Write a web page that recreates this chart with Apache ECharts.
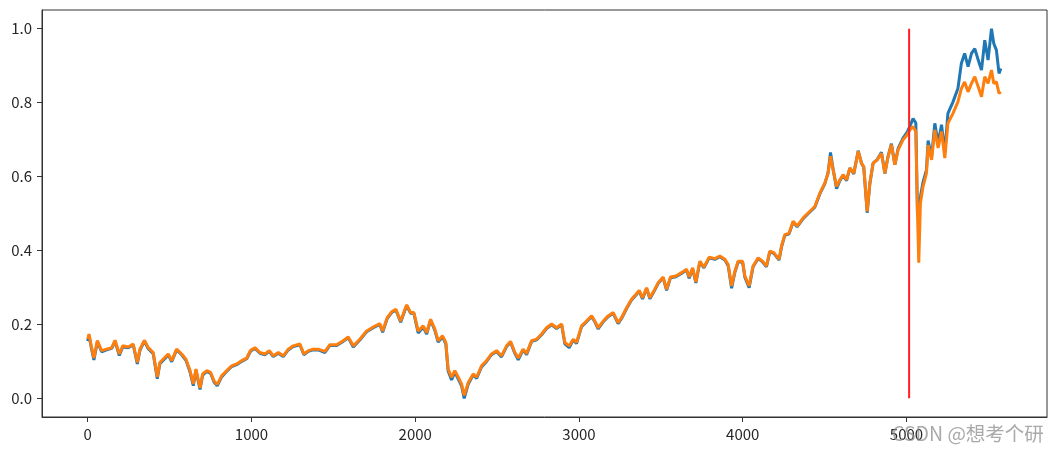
<!DOCTYPE html>
<html>
<head>
<meta charset="utf-8">
<script src="https://cdn.jsdelivr.net/npm/echarts@6/dist/echarts.min.js"></script>
<style>
html,body{margin:0;padding:0;background:#fff;}
#c{width:1057px;height:453px;}
</style>
</head>
<body>
<div id="c"></div>
<script>
// x positions (sample index)
const idx = [0,8,24,38,59,85,116,147,167,193,214,248,278,303,319,346,370,400,425,441,472,492,513,543,574,600,625,645,661,686,702,727,751,771,791,818,849,879,910,940,971,995,1021,1052,1082,1109,1133,1164,1194,1225,1255,1296,1320,1347,1377,1408,1449,1479,1520,1560,1591,1622,1662,1703,1744,1784,1801,1829,1856,1882,1911,1948,1972,1992,2018,2049,2070,2094,2120,2140,2167,2187,2201,2222,2242,2263,2283,2299,2324,2354,2375,2405,2436,2466,2497,2527,2558,2582,2609,2629,2659,2680,2711,2741,2772,2802,2833,2863,2894,2914,2940,2965,2985,3016,3046,3077,3097,3117,3148,3178,3209,3239,3260,3291,3321,3347,3368,3388,3413,3433,3457,3484,3514,3535,3559,3592,3626,3657,3673,3694,3714,3738,3763,3795,3830,3860,3891,3911,3932,3952,3972,3999,4013,4039,4063,4094,4121,4145,4165,4190,4222,4237,4257,4283,4308,4332,4369,4410,4440,4471,4501,4521,4536,4552,4573,4593,4613,4634,4654,4678,4705,4725,4739,4760,4776,4796,4821,4847,4868,4888,4908,4929,4949,4979,5004,5020,5040,5057,5067,5075,5085,5101,5122,5132,5153,5173,5193,5214,5234,5253,5284,5314,5335,5355,5376,5397,5417,5438,5458,5478,5498,5519,5533,5549,5565,5576];
// blue series (actual)
const actual = [0.155,0.170,0.133,0.104,0.153,0.126,0.131,0.135,0.155,0.116,0.139,0.137,0.145,0.093,0.130,0.155,0.134,0.121,0.053,0.094,0.108,0.118,0.099,0.131,0.118,0.103,0.071,0.034,0.076,0.024,0.063,0.073,0.067,0.045,0.034,0.058,0.073,0.086,0.091,0.100,0.107,0.128,0.135,0.122,0.118,0.127,0.113,0.122,0.113,0.131,0.140,0.145,0.118,0.127,0.131,0.131,0.124,0.143,0.143,0.154,0.164,0.139,0.158,0.180,0.191,0.200,0.179,0.216,0.232,0.239,0.206,0.251,0.230,0.230,0.177,0.193,0.174,0.212,0.184,0.152,0.166,0.147,0.074,0.050,0.071,0.052,0.034,0.000,0.039,0.063,0.054,0.085,0.100,0.118,0.127,0.112,0.140,0.152,0.121,0.104,0.131,0.118,0.154,0.158,0.172,0.189,0.199,0.189,0.199,0.147,0.137,0.158,0.148,0.194,0.207,0.221,0.207,0.188,0.207,0.221,0.230,0.202,0.216,0.243,0.266,0.279,0.290,0.269,0.297,0.269,0.288,0.311,0.326,0.292,0.326,0.329,0.338,0.347,0.325,0.351,0.312,0.369,0.353,0.380,0.376,0.383,0.374,0.359,0.298,0.341,0.369,0.369,0.328,0.299,0.356,0.378,0.369,0.356,0.396,0.392,0.374,0.410,0.441,0.445,0.477,0.464,0.486,0.504,0.517,0.553,0.580,0.610,0.665,0.620,0.567,0.589,0.603,0.589,0.623,0.607,0.670,0.636,0.625,0.502,0.580,0.636,0.646,0.666,0.608,0.656,0.689,0.632,0.676,0.704,0.720,0.735,0.757,0.745,0.500,0.530,0.545,0.585,0.618,0.697,0.652,0.744,0.690,0.740,0.665,0.771,0.802,0.838,0.906,0.933,0.897,0.933,0.946,0.915,0.888,0.969,0.915,1.000,0.960,0.942,0.879,0.892];
// orange series (predicted)
const predicted = [0.160,0.174,0.137,0.109,0.156,0.129,0.133,0.137,0.157,0.120,0.142,0.139,0.147,0.097,0.133,0.157,0.137,0.124,0.058,0.097,0.111,0.120,0.102,0.133,0.120,0.106,0.075,0.039,0.079,0.028,0.066,0.075,0.070,0.048,0.037,0.061,0.075,0.088,0.093,0.102,0.109,0.130,0.137,0.124,0.120,0.129,0.115,0.124,0.115,0.133,0.142,0.147,0.120,0.129,0.133,0.133,0.127,0.145,0.145,0.156,0.166,0.142,0.160,0.182,0.193,0.202,0.182,0.218,0.234,0.241,0.209,0.253,0.232,0.232,0.182,0.196,0.178,0.214,0.187,0.156,0.169,0.151,0.079,0.057,0.075,0.057,0.039,0.008,0.043,0.066,0.057,0.088,0.102,0.120,0.129,0.115,0.142,0.154,0.124,0.109,0.133,0.121,0.156,0.160,0.174,0.191,0.201,0.191,0.201,0.151,0.142,0.160,0.151,0.196,0.209,0.223,0.209,0.191,0.209,0.223,0.232,0.205,0.218,0.245,0.268,0.281,0.292,0.272,0.299,0.272,0.290,0.313,0.328,0.295,0.328,0.331,0.340,0.349,0.328,0.353,0.315,0.371,0.355,0.382,0.378,0.385,0.376,0.362,0.304,0.344,0.371,0.371,0.331,0.304,0.358,0.380,0.371,0.358,0.398,0.394,0.376,0.412,0.443,0.447,0.479,0.466,0.488,0.506,0.519,0.555,0.582,0.609,0.655,0.618,0.573,0.591,0.605,0.591,0.623,0.609,0.668,0.636,0.627,0.506,0.582,0.636,0.645,0.663,0.609,0.654,0.686,0.632,0.672,0.699,0.713,0.726,0.735,0.722,0.500,0.367,0.528,0.573,0.609,0.685,0.645,0.726,0.677,0.722,0.650,0.744,0.771,0.802,0.838,0.856,0.829,0.852,0.870,0.843,0.816,0.870,0.852,0.888,0.852,0.856,0.825,0.829];
// split marker
const splitIndex = 5016;
const splitRange = [0, 1];
// tick labels
const xTicks = [0, 1000, 2000, 3000, 4000, 5000];
const yTicks = [0.0, 0.2, 0.4, 0.6, 0.8, 1.0];
const watermark = 'CSDN @想考个研';

const zip = (xs, ys) => xs.map((x, i) => [x, ys[i]]);
const chart = echarts.init(document.getElementById('c'), null, {renderer: 'canvas'});
const font = '"Noto Sans CJK SC", "DejaVu Sans", sans-serif';
const axisColor = '#333';
chart.setOption({
  animation: false,
  backgroundColor: '#fff',
  grid: {left: 42, right: 10, top: 10, bottom: 36, show: true, borderColor: axisColor, borderWidth: 1},
  xAxis: {
    type: 'value', min: -279, max: 5858,
    axisLine: {show: true, onZero: false, lineStyle: {color: axisColor}},
    axisTick: {show: true, length: 5, customValues: xTicks, lineStyle: {color: axisColor}},
    axisLabel: {customValues: xTicks, color: '#262626', fontSize: 15, fontFamily: font, margin: 10,
      formatter: v => String(Math.round(v))},
    splitLine: {show: false}
  },
  yAxis: {
    type: 'value', min: -0.0505, max: 1.0505,
    axisLine: {show: true, onZero: false, lineStyle: {color: axisColor}},
    axisTick: {show: true, length: 5, customValues: yTicks, lineStyle: {color: axisColor}},
    axisLabel: {customValues: yTicks, color: '#262626', fontSize: 15, fontFamily: font, margin: 10,
      formatter: v => Number(v).toFixed(1)},
    splitLine: {show: false}
  },
  series: [
    {type: 'line', data: zip(idx, actual), showSymbol: false, symbol: 'none',
     lineStyle: {color: '#1f77b4', width: 3}, itemStyle: {color: '#1f77b4'}, z: 2},
    {type: 'line', data: zip(idx, predicted), showSymbol: false, symbol: 'none',
     lineStyle: {color: '#ff7f0e', width: 3}, itemStyle: {color: '#ff7f0e'}, z: 3},
    {type: 'line', data: splitRange.map(v => [splitIndex, v]), showSymbol: false, symbol: 'none',
     lineStyle: {color: '#ff2020', width: 2}, itemStyle: {color: '#ff2020'}, z: 4}
  ],
  graphic: [{
    type: 'text', left: 892, top: 424, z: 100,
    style: {text: watermark, fill: 'rgba(140,140,140,0.75)', font: '19.5px "Noto Sans CJK SC", sans-serif'}
  }]
});
</script>
</body>
</html>
